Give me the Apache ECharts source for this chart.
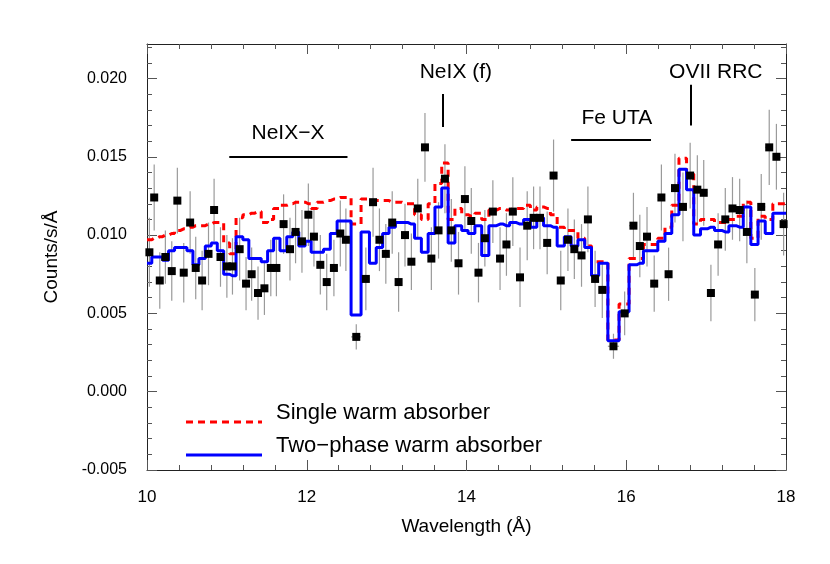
<!DOCTYPE html>
<html><head><meta charset="utf-8">
<script src="https://cdn.jsdelivr.net/npm/echarts@6/dist/echarts.min.js"></script>
<style>html,body{margin:0;padding:0;background:#fff}#c{width:830px;height:564px}</style>
</head><body><div id="c"></div>
<script>
// ---- data ----
const wavelength = [10.03,10.09,10.16,10.23,10.31,10.38,10.46,10.54,10.61,10.69,10.77,10.84,10.92,11.00,11.07,11.16,
11.24,11.31,11.39,11.47,11.55,11.62,11.71,11.79,11.86,11.94,12.02,12.09,12.17,12.25,
12.34,12.42,12.49,12.62,12.74,12.83,12.91,12.99,13.07,13.15,13.23,13.31,13.39,
13.48,13.56,13.65,13.73,13.81,13.90,13.98,14.06,14.15,14.23,14.33,14.42,14.50,
14.58,14.67,14.76,14.84,14.92,15.01,15.09,15.18,15.27,15.35,15.44,15.52,15.61,
15.70,15.84,15.98,16.09,16.17,16.26,16.35,16.44,16.53,16.61,16.71,
16.80,16.89,16.97,17.06,17.15,17.24,17.33,17.42,17.51,17.61,17.69,17.79,17.88,17.97];
const counts = [0.0089,0.0124,0.0071,0.0086,0.0077,0.0122,0.0076,0.0108,0.0079,0.0071,0.0088,0.0116,0.0086,0.0080,0.0080,0.0091,
0.0069,0.0075,0.0063,0.0066,0.0079,0.0079,0.0107,0.0091,0.0102,0.0096,0.0113,0.0099,0.0081,0.0070,
0.0079,0.0101,0.0097,0.0035,0.0072,0.0121,0.0097,0.0088,0.0108,0.0070,0.0100,0.0083,0.0117,
0.0156,0.0085,0.0103,0.0136,0.0103,0.0082,0.0123,0.0109,0.0076,0.0098,0.0115,0.0085,0.0094,
0.0115,0.0073,0.0106,0.0111,0.0111,0.0095,0.0138,0.0071,0.0097,0.0091,0.0087,0.0110,0.0072,
0.0065,0.0029,0.0050,0.0106,0.0093,0.0099,0.0069,0.0124,0.0075,0.0130,0.0118,
0.0138,0.0129,0.0127,0.0063,0.0094,0.0110,0.0117,0.0116,0.0102,0.0062,0.0118,0.0156,0.0150,0.0107];
const countErr = [0.0022,0.0021,0.0018,0.0017,0.0019,0.0021,0.0019,0.002,0.002,0.0019,0.002,0.002,0.0019,0.002,0.0018,0.002,
0.0017,0.0017,0.0017,0.0017,0.0018,0.0018,0.0019,0.002,0.002,0.002,0.002,0.0019,0.0019,0.0018,
0.0018,0.0021,0.002,0.0008,0.002,0.0022,0.002,0.0019,0.002,0.0019,0.002,0.0018,0.0019,
0.0022,0.002,0.0018,0.0022,0.002,0.002,0.0021,0.0021,0.0019,0.0018,0.002,0.002,0.002,
0.0022,0.0019,0.0022,0.002,0.002,0.002,0.0023,0.0019,0.002,0.0019,0.002,0.0021,0.0018,
0.0018,0.0008,0.0014,0.0021,0.002,0.0019,0.0018,0.0021,0.0017,0.0022,0.0022,
0.0021,0.0022,0.0021,0.0018,0.002,0.002,0.002,0.002,0.002,0.0017,0.0021,0.0024,0.0021,0.002];
const singleWA = [0.0097,0.0098,0.0099,0.0100,0.0101,0.0103,0.0104,0.0105,0.0106,0.0106,0.0107,0.0108,0.0108,0.0095,0.0088,0.0111,
0.0113,0.0114,0.0115,0.0108,0.0110,0.0117,0.0119,0.0120,0.0121,0.0121,0.0120,0.0117,0.0121,0.0122,
0.0123,0.0124,0.0124,0.0107,0.0123,0.0122,0.0122,0.0122,0.0121,0.0121,0.0120,0.0120,0.0113,
0.0110,0.0120,0.0133,0.0146,0.0110,0.0117,0.0113,0.0112,0.0114,0.0110,0.0116,0.0117,0.0116,
0.0117,0.0117,0.0119,0.0116,0.0118,0.0117,0.0113,0.0105,0.0103,0.0103,0.0098,0.0093,0.0083,
0.0083,0.0033,0.0056,0.0085,0.0085,0.0094,0.0094,0.0098,0.0105,0.0119,0.0149,
0.0139,0.0107,0.0110,0.0110,0.0108,0.0108,0.0110,0.0112,0.0121,0.0098,0.0112,0.0110,0.0120,0.0120];
const twoPhaseWA = [0.0082,0.0086,0.0086,0.0084,0.0090,0.0092,0.0092,0.0090,0.0081,0.0085,0.0093,0.0095,0.0090,0.0075,0.0074,0.0099,
0.0097,0.0085,0.0085,0.0083,0.0090,0.0098,0.0090,0.0099,0.0102,0.0093,0.0096,0.0089,0.0089,0.0091,
0.0101,0.0109,0.0109,0.0049,0.0102,0.0082,0.0092,0.0101,0.0105,0.0108,0.0108,0.0107,0.0098,
0.0089,0.0101,0.0118,0.0130,0.0095,0.0106,0.0103,0.0101,0.0106,0.0087,0.0106,0.0107,0.0106,
0.0108,0.0107,0.0110,0.0105,0.0111,0.0106,0.0105,0.0093,0.0099,0.0093,0.0097,0.0092,0.0074,
0.0082,0.00325,0.0051,0.0081,0.0082,0.0090,0.0090,0.0096,0.0101,0.0113,0.0142,
0.0129,0.0100,0.0104,0.0105,0.0103,0.0102,0.0106,0.0105,0.0118,0.0094,0.0109,0.0101,0.0114,0.0114];
const xRange = [10, 18];
const yRange = [-0.005, 0.0222];
const xTicks = [10, 12, 14, 16, 18];
const yTicks = [-0.005, 0.000, 0.005, 0.010, 0.015, 0.020];
const xMinorStep = 0.4;
const yMinorStep = 0.001;
const annotationLabels = ['NeIX\u2212X', 'NeIX (f)', 'Fe UTA', 'OVII RRC'];
const annotationLabelPos = [[11.765, 0.01653], [13.867, 0.02042], [15.882, 0.01749], [17.121, 0.02042]];
const annotationLines = [
  [[11.03, 0.0150], [12.51, 0.0150]],
  [[13.70, 0.0190], [13.70, 0.0169]],
  [[15.31, 0.0161], [16.31, 0.0161]],
  [[16.81, 0.0196], [16.81, 0.0170]]
];
const seriesNames = ['Single warm absorber', 'Two\u2212phase warm absorber'];

// ---- build ----
function range(a, b, s) { const out = []; for (let i = 0; Math.round((a + i * s) * 1e6) <= Math.round(b * 1e6); i++) out.push(+(a + i * s).toFixed(6)); return out; }
const xMinor = range(xRange[0], xRange[1], xMinorStep).filter(v => !xTicks.some(t => Math.abs(t - v) < 1e-9));
const yMinor = range(-0.005, 0.022, yMinorStep).filter(v => !yTicks.some(t => Math.abs(t - v) < 1e-9));

const pts = wavelength.map((w, i) => [w, counts[i]]);
const errData = wavelength.map((w, i) => {
  const prev = i > 0 ? wavelength[i - 1] : w - (wavelength[i + 1] - w);
  const next = i < wavelength.length - 1 ? wavelength[i + 1] : w + (w - wavelength[i - 1]);
  return [w, counts[i], countErr[i], (w + prev) / 2, (w + next) / 2];
});
function stepData(vals) {
  const d = wavelength.map((w, i) => [w, vals[i]]);
  d.unshift([xRange[0], vals[0]]);
  d.push([xRange[1], vals[vals.length - 1]]);
  return d;
}

const FONT = 'Liberation Sans';
const axisCol = '#222';
const tickCol = '#555';
function xAx(pos, values, len, labels, line) {
  return { type: 'value', min: xRange[0], max: xRange[1], position: pos, offset: 0,
    axisLine: { show: line, onZero: false, lineStyle: { color: axisCol, width: 1 } },
    axisTick: { show: true, inside: true, length: len, customValues: values, lineStyle: { color: tickCol } },
    axisLabel: { show: labels, customValues: values, fontFamily: FONT, fontSize: 17, color: '#000', margin: 19 },
    splitLine: { show: false } };
}
function yAx(pos, values, len, labels, line) {
  return { type: 'value', min: yRange[0], max: yRange[1], position: pos, offset: 0,
    axisLine: { show: line, onZero: false, lineStyle: { color: axisCol, width: 1 } },
    axisTick: { show: true, inside: true, length: len, customValues: values, lineStyle: { color: tickCol } },
    axisLabel: { show: labels, customValues: values, fontFamily: FONT, fontSize: 16, color: '#000', margin: 20,
      formatter: v => v.toFixed(3) },
    splitLine: { show: false } };
}
const xAxes = [xAx('bottom', xTicks, 10, true, true), xAx('bottom', xMinor, 5, false, false),
  xAx('top', xTicks, 10, false, true), xAx('top', xMinor, 5, false, false)];
xAxes[0].name = 'Wavelength (\u00c5)';
xAxes[0].nameLocation = 'middle';
xAxes[0].nameGap = 47;
xAxes[0].nameTextStyle = { fontFamily: FONT, fontSize: 19, color: '#000' };
const yAxes = [yAx('left', yTicks, 10, true, true), yAx('left', yMinor, 5, false, false),
  yAx('right', yTicks, 10, false, true), yAx('right', yMinor, 5, false, false)];
yAxes[0].name = 'Counts/s/\u00c5';
yAxes[0].nameLocation = 'middle';
yAxes[0].nameGap = 86;
yAxes[0].nameRotate = 90;
yAxes[0].nameTextStyle = { fontFamily: FONT, fontSize: 19, color: '#000' };

const chart = echarts.init(document.getElementById('c'), null, { renderer: 'canvas' });
chart.setOption({
  animation: false,
  backgroundColor: '#fff',
  grid: { left: 147, right: 44, top: 44, bottom: 94, containLabel: false },
  xAxis: xAxes,
  yAxis: yAxes,
  series: [
    { type: 'custom', name: 'err', z: 1, data: errData, clip: true,
      renderItem: function (params, api) {
        const x = api.value(0), y = api.value(1), e = api.value(2);
        const top = api.coord([x, y + e]), bot = api.coord([x, y - e]);
        const l = api.coord([api.value(3), y]), r = api.coord([api.value(4), y]);
        const st = { stroke: '#9a9a9a', lineWidth: 1.2 };
        return { type: 'group', children: [
          { type: 'line', shape: { x1: top[0], y1: top[1], x2: bot[0], y2: bot[1] }, style: st },
          { type: 'line', shape: { x1: l[0], y1: l[1], x2: r[0], y2: r[1] }, style: st }
        ] };
      } },
    { type: 'line', name: seriesNames[0], z: 2, step: 'middle', symbol: 'none', data: stepData(singleWA),
      lineStyle: { color: '#ff0000', width: 3, type: [7, 5] } },
    { type: 'line', name: seriesNames[1], z: 3, step: 'middle', symbol: 'none', data: stepData(twoPhaseWA),
      lineStyle: { color: '#0000ff', width: 3 },
      markLine: { silent: true, symbol: ['none', 'none'], label: { show: false },
        lineStyle: { color: '#000', width: 2, type: 'solid' },
        emphasis: { disabled: true },
        data: annotationLines.map(l => [{ coord: l[0] }, { coord: l[1] }]) } },
    { type: 'scatter', name: 'data', z: 4, symbol: 'rect', symbolSize: 8, data: pts,
      itemStyle: { color: '#000', opacity: 1 } },
    { type: 'scatter', name: 'labels', z: 5, symbolSize: 0, silent: true,
      itemStyle: { color: '#000', opacity: 1 },
      data: annotationLabelPos.map((p, i) => [p[0], p[1], annotationLabels[i]]),
      label: { show: true, position: 'inside', formatter: p => p.data[2], fontFamily: FONT, fontSize: 21,
        color: '#000', opacity: 1, textBorderWidth: 0 } }
  ],
  graphic: [
    { type: 'line', shape: { x1: 186, y1: 422, x2: 262, y2: 422 }, style: { stroke: '#ff0000', lineWidth: 3, lineDash: [7, 5] } },
    { type: 'text', x: 276, y: 413, style: { text: seriesNames[0], font: '22px "Liberation Sans"', fill: '#000', verticalAlign: 'middle' } },
    { type: 'line', shape: { x1: 186, y1: 455, x2: 262, y2: 455 }, style: { stroke: '#0000ff', lineWidth: 3 } },
    { type: 'text', x: 276, y: 446, style: { text: seriesNames[1], font: '22px "Liberation Sans"', fill: '#000', verticalAlign: 'middle' } }
  ]
});
</script></body></html>
